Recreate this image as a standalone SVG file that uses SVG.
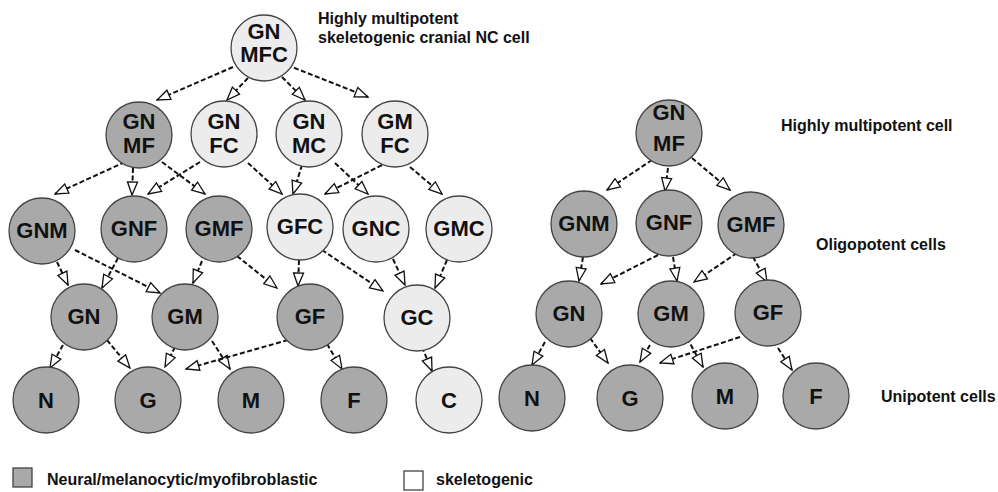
<svg xmlns="http://www.w3.org/2000/svg" width="998" height="492" viewBox="0 0 998 492">
<defs>
<style>
.d{fill:#a9a9a9;stroke:#444;stroke-width:1.3}
.l{fill:#ececec;stroke:#444;stroke-width:1.3}
.t{font-family:"Liberation Sans",Arial,sans-serif;font-weight:bold;font-size:22px;fill:#111;text-anchor:middle}
.lab{font-family:"Liberation Sans",Arial,sans-serif;font-weight:bold;font-size:16px;fill:#111}
#edges line{stroke:#111;stroke-width:2;stroke-dasharray:5 2.5;marker-end:url(#ah)}
</style>
<marker id="ah" markerUnits="userSpaceOnUse" markerWidth="15" markerHeight="13" viewBox="0 0 15 13" refX="14" refY="6.5" orient="auto">
<path d="M1,1.5 L14,6.5 L1,11.5 Z" fill="#fff" stroke="#111" stroke-width="1.3"/>
</marker>
</defs>
<rect width="998" height="492" fill="#fff"/>

<g id="edges">
<line x1="233" y1="67" x2="157" y2="100"/>
<line x1="248" y1="78" x2="227" y2="100"/>
<line x1="282" y1="77" x2="305" y2="100"/>
<line x1="287" y1="65" x2="368" y2="97"/>
<line x1="125" y1="162" x2="55" y2="194"/>
<line x1="133" y1="168" x2="132" y2="195"/>
<line x1="162" y1="162" x2="205" y2="194"/>
<line x1="200" y1="162" x2="148" y2="194"/>
<line x1="248" y1="163" x2="282" y2="194"/>
<line x1="302" y1="165" x2="293" y2="194"/>
<line x1="335" y1="163" x2="368" y2="194"/>
<line x1="382" y1="165" x2="325" y2="194"/>
<line x1="410" y1="167" x2="442" y2="194"/>
<line x1="57" y1="262" x2="68" y2="285"/>
<line x1="75" y1="250" x2="160" y2="293"/>
<line x1="118" y1="258" x2="102" y2="288"/>
<line x1="202" y1="261" x2="193" y2="283"/>
<line x1="237" y1="256" x2="277" y2="288"/>
<line x1="299" y1="260" x2="298" y2="286"/>
<line x1="322" y1="250" x2="383" y2="291"/>
<line x1="393" y1="259" x2="405" y2="285"/>
<line x1="447" y1="260" x2="435" y2="288"/>
<line x1="63" y1="345" x2="50" y2="368"/>
<line x1="107" y1="340" x2="130" y2="368"/>
<line x1="175" y1="347" x2="165" y2="367"/>
<line x1="212" y1="341" x2="230" y2="369"/>
<line x1="288" y1="340" x2="186" y2="369"/>
<line x1="327" y1="344" x2="342" y2="369"/>
<line x1="422" y1="347" x2="432" y2="371"/>
<line x1="652" y1="160" x2="607" y2="190"/>
<line x1="668" y1="168" x2="665" y2="191"/>
<line x1="692" y1="158" x2="730" y2="190"/>
<line x1="583" y1="257" x2="579" y2="281"/>
<line x1="658" y1="255" x2="601" y2="284"/>
<line x1="673" y1="257" x2="677" y2="281"/>
<line x1="737" y1="253" x2="694" y2="282"/>
<line x1="753" y1="257" x2="767" y2="282"/>
<line x1="545" y1="342" x2="532" y2="365"/>
<line x1="590" y1="338" x2="608" y2="363"/>
<line x1="650" y1="345" x2="640" y2="362"/>
<line x1="687" y1="338" x2="703" y2="367"/>
<line x1="740" y1="337" x2="660" y2="363"/>
<line x1="778" y1="348" x2="792" y2="370"/>
</g>

<!-- Left tree -->
<g id="L-GNMFC"><circle class="l" cx="264" cy="48" r="33"/><text class="t" x="264" y="39">GN</text><text class="t" x="264" y="62">MFC</text></g>
<g id="L-GNMF"><circle class="d" cx="139" cy="135" r="33"/><text class="t" x="139" y="129">GN</text><text class="t" x="139" y="153">MF</text></g>
<g id="L-GNFC"><circle class="l" cx="224" cy="134" r="33"/><text class="t" x="224" y="129">GN</text><text class="t" x="224" y="153">FC</text></g>
<g id="L-GNMC"><circle class="l" cx="309" cy="134" r="33"/><text class="t" x="309" y="129">GN</text><text class="t" x="309" y="153">MC</text></g>
<g id="L-GMFC"><circle class="l" cx="395" cy="134" r="33"/><text class="t" x="395" y="129">GM</text><text class="t" x="395" y="153">FC</text></g>

<g id="L-GNM"><circle class="d" cx="42" cy="231" r="33"/><text class="t" x="42" y="238">GNM</text></g>
<g id="L-GNF"><circle class="d" cx="134" cy="229" r="33"/><text class="t" x="134" y="236">GNF</text></g>
<g id="L-GMF"><circle class="d" cx="219" cy="229" r="33"/><text class="t" x="219" y="236">GMF</text></g>
<g id="L-GFC"><circle class="l" cx="300" cy="227" r="33"/><text class="t" x="300" y="234">GFC</text></g>
<g id="L-GNC"><circle class="l" cx="376" cy="229" r="33"/><text class="t" x="376" y="236">GNC</text></g>
<g id="L-GMC"><circle class="l" cx="459" cy="229" r="33"/><text class="t" x="459" y="236">GMC</text></g>

<g id="L-GN"><circle class="d" cx="84" cy="317" r="33"/><text class="t" x="84" y="324">GN</text></g>
<g id="L-GM"><circle class="d" cx="185" cy="317" r="33"/><text class="t" x="185" y="324">GM</text></g>
<g id="L-GF"><circle class="d" cx="310" cy="317" r="33"/><text class="t" x="310" y="324">GF</text></g>
<g id="L-GC"><circle class="l" cx="417" cy="318" r="33"/><text class="t" x="417" y="325">GC</text></g>

<g id="L-N"><circle class="d" cx="46" cy="400" r="33"/><text class="t" x="46" y="408">N</text></g>
<g id="L-G"><circle class="d" cx="148" cy="400" r="33"/><text class="t" x="148" y="408">G</text></g>
<g id="L-M"><circle class="d" cx="251" cy="400" r="33"/><text class="t" x="251" y="408">M</text></g>
<g id="L-F"><circle class="d" cx="354" cy="400" r="33"/><text class="t" x="354" y="408">F</text></g>
<g id="L-C"><circle class="l" cx="449" cy="400" r="33"/><text class="t" x="449" y="408">C</text></g>

<!-- Right tree -->
<g id="R-GNMF"><circle class="d" cx="669" cy="133" r="33"/><text class="t" x="669" y="120">GN</text><text class="t" x="669" y="151">MF</text></g>
<g id="R-GNM"><circle class="d" cx="584" cy="224" r="33"/><text class="t" x="584" y="231">GNM</text></g>
<g id="R-GNF"><circle class="d" cx="669" cy="223" r="33"/><text class="t" x="669" y="230">GNF</text></g>
<g id="R-GMF"><circle class="d" cx="751" cy="225" r="33"/><text class="t" x="751" y="232">GMF</text></g>
<g id="R-GN"><circle class="d" cx="569" cy="314" r="33"/><text class="t" x="569" y="321">GN</text></g>
<g id="R-GM"><circle class="d" cx="671" cy="314" r="33"/><text class="t" x="671" y="321">GM</text></g>
<g id="R-GF"><circle class="d" cx="768" cy="313" r="33"/><text class="t" x="768" y="320">GF</text></g>
<g id="R-N"><circle class="d" cx="532" cy="398" r="33"/><text class="t" x="532" y="406">N</text></g>
<g id="R-G"><circle class="d" cx="630" cy="398" r="33"/><text class="t" x="630" y="406">G</text></g>
<g id="R-M"><circle class="d" cx="725" cy="396" r="33"/><text class="t" x="725" y="404">M</text></g>
<g id="R-F"><circle class="d" cx="816" cy="396" r="33"/><text class="t" x="816" y="404">F</text></g>

<!-- Labels -->
<g id="labels">
<text class="lab" x="318" y="24">Highly multipotent</text>
<text class="lab" x="318" y="43">skeletogenic cranial NC cell</text>
<text class="lab" x="781" y="131">Highly multipotent cell</text>
<text class="lab" x="816" y="250">Oligopotent cells</text>
<text class="lab" x="881" y="402">Unipotent cells</text>
</g>

<!-- Legend -->
<g id="legend">
<rect x="13" y="468" width="19" height="19" fill="#a9a9a9" stroke="#444" stroke-width="1.3"/>
<text class="lab" x="47" y="485">Neural/melanocytic/myofibroblastic</text>
<rect x="404" y="471" width="19" height="19" fill="#fff" stroke="#444" stroke-width="1.3"/>
<text class="lab" x="436" y="485">skeletogenic</text>
</g>
</svg>
